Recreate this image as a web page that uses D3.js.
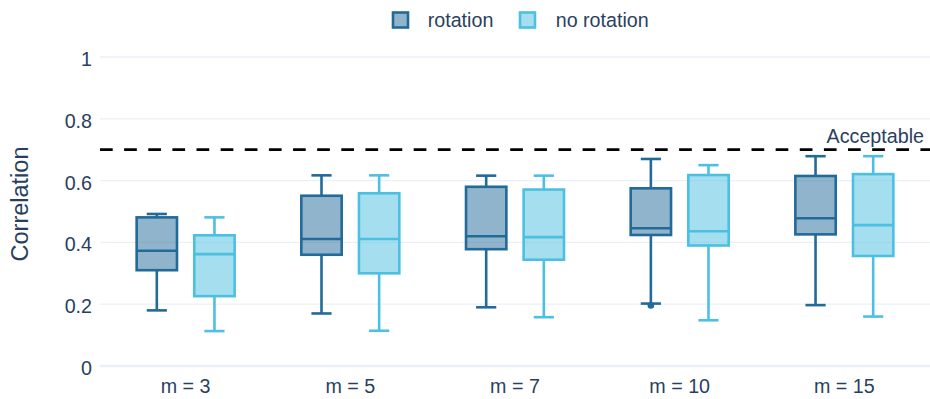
<!DOCTYPE html>
<html>
<head>
<meta charset="utf-8">
<script src="https://cdn.jsdelivr.net/npm/d3@7"></script>
<style>
  body { margin: 0; background: #fff; }
  svg { display: block; }
  text { font-family: "Liberation Sans", Arial, sans-serif; fill: #2a3f5f; }
</style>
</head>
<body>
<svg id="chart" width="930" height="399"></svg>
<script>
// Categories (number of components m) and the two compared series
const categories = ["m = 3", "m = 5", "m = 7", "m = 10", "m = 15"];
const seriesNames = ["rotation", "no rotation"];
const seriesColors = ["#226a98", "#4bc0e0"];

// Box statistics per category: "rotation"
const rotationLower  = [0.180, 0.170, 0.190, 0.202, 0.197];
const rotationQ1     = [0.310, 0.360, 0.378, 0.424, 0.426];
const rotationMedian = [0.373, 0.411, 0.420, 0.446, 0.478];
const rotationQ3     = [0.481, 0.551, 0.580, 0.575, 0.615];
const rotationUpper  = [0.492, 0.617, 0.616, 0.670, 0.679];
const rotationOutliers = [[], [], [], [0.196], []];

// Box statistics per category: "no rotation"
const noRotationLower  = [0.113, 0.114, 0.158, 0.148, 0.160];
const noRotationQ1     = [0.226, 0.300, 0.344, 0.390, 0.356];
const noRotationMedian = [0.362, 0.411, 0.417, 0.436, 0.456];
const noRotationQ3     = [0.423, 0.559, 0.571, 0.618, 0.621];
const noRotationUpper  = [0.481, 0.617, 0.616, 0.650, 0.679];
const noRotationOutliers = [[], [], [], [], []];

// Axis ticks and reference threshold
const yTickValues = [0, 0.2, 0.4, 0.6, 0.8, 1];
const yTickLabels = ["0", "0.2", "0.4", "0.6", "0.8", "1"];
const yAxisTitle = "Correlation";
const thresholdValue = 0.7;
const thresholdLabel = "Acceptable";

const stats = [
  { lower: rotationLower, q1: rotationQ1, median: rotationMedian, q3: rotationQ3, upper: rotationUpper, outliers: rotationOutliers },
  { lower: noRotationLower, q1: noRotationQ1, median: noRotationMedian, q3: noRotationQ3, upper: noRotationUpper, outliers: noRotationOutliers }
];

const boxes = [];
seriesNames.forEach((name, si) => {
  categories.forEach((cat, ci) => {
    const s = stats[si];
    boxes.push({
      series: name, color: seriesColors[si], cat,
      lower: s.lower[ci], q1: s.q1[ci], median: s.median[ci], q3: s.q3[ci], upper: s.upper[ci],
      outliers: s.outliers[ci]
    });
  });
});

const svg = d3.select("#chart");
const plotLeft = 100, plotRight = 930;
const fontSize = 19.7;
const lw = 2.6;

const x = d3.scaleBand().domain(categories).range([103.3, 926.7]).paddingInner(0).paddingOuter(0);
const bw0 = x.bandwidth();
const x1 = d3.scaleBand().domain(seriesNames)
  .range([bw0 * 0.15, bw0 * 0.85]).paddingInner(0.3).paddingOuter(0.15);
const y = d3.scaleLinear().domain([0, 1]).range([366, 57]);

// Horizontal grid
svg.append("g").selectAll("line")
  .data(yTickValues.filter(v => v !== 0))
  .join("line")
  .attr("x1", plotLeft).attr("x2", plotRight)
  .attr("y1", d => y(d)).attr("y2", d => y(d))
  .attr("stroke", "#ebf0f8").attr("stroke-width", 1.3);

// Zero line
svg.append("line")
  .attr("x1", plotLeft).attr("x2", plotRight)
  .attr("y1", y(0)).attr("y2", y(0))
  .attr("stroke", "#ebf0f8").attr("stroke-width", 2.6);

// Y axis labels
const yAxis = d3.axisLeft(y).tickValues(yTickValues)
  .tickFormat((d, i) => yTickLabels[i]).tickSize(0).tickPadding(8);
const gy = svg.append("g").attr("transform", `translate(${plotLeft},0)`).call(yAxis);
gy.select(".domain").remove();
gy.selectAll("text").attr("font-size", fontSize).attr("dy", "0.43em")
  .style("font-family", '"Liberation Sans", Arial, sans-serif').attr("fill", "#2a3f5f");

// X axis labels
const xAxis = d3.axisBottom(x).tickSize(0).tickPadding(13);
const gx = svg.append("g").attr("transform", `translate(0,${y(0)})`).call(xAxis);
gx.select(".domain").remove();
gx.selectAll("text").attr("font-size", fontSize)
  .style("font-family", '"Liberation Sans", Arial, sans-serif').attr("fill", "#2a3f5f");

// Y axis title
svg.append("text")
  .attr("transform", `translate(27.5,204) rotate(-90)`)
  .attr("text-anchor", "middle")
  .attr("font-size", 23.5)
  .text(yAxisTitle);

// Box plots
const bw = x1.bandwidth();
const g = svg.append("g");
const boxG = g.selectAll("g.box").data(boxes).join("g").attr("class", "box")
  .attr("transform", d => `translate(${x(d.cat) + x1(d.series) + bw / 2},0)`);

boxG.append("rect")
  .attr("x", -bw / 2).attr("width", bw)
  .attr("y", d => y(d.q3)).attr("height", d => y(d.q1) - y(d.q3))
  .attr("fill", d => d.color).attr("fill-opacity", 0.5)
  .attr("stroke", d => d.color).attr("stroke-width", lw);

boxG.append("line")
  .attr("x1", -bw / 2).attr("x2", bw / 2)
  .attr("y1", d => y(d.median)).attr("y2", d => y(d.median))
  .attr("stroke", d => d.color).attr("stroke-width", lw);

// Whiskers
boxG.append("line")
  .attr("x1", 0).attr("x2", 0)
  .attr("y1", d => y(d.q3)).attr("y2", d => y(d.upper))
  .attr("stroke", d => d.color).attr("stroke-width", lw);
boxG.append("line")
  .attr("x1", 0).attr("x2", 0)
  .attr("y1", d => y(d.q1)).attr("y2", d => y(d.lower))
  .attr("stroke", d => d.color).attr("stroke-width", lw);
boxG.append("line")
  .attr("x1", -bw / 4).attr("x2", bw / 4)
  .attr("y1", d => y(d.upper)).attr("y2", d => y(d.upper))
  .attr("stroke", d => d.color).attr("stroke-width", lw);
boxG.append("line")
  .attr("x1", -bw / 4).attr("x2", bw / 4)
  .attr("y1", d => y(d.lower)).attr("y2", d => y(d.lower))
  .attr("stroke", d => d.color).attr("stroke-width", lw);

// Outliers
boxG.selectAll("circle").data(d => d.outliers.map(v => ({ v, color: d.color })))
  .join("circle")
  .attr("cx", 0).attr("cy", d => y(d.v)).attr("r", 3.3)
  .attr("fill", d => d.color);

// Threshold line and label
svg.append("line")
  .attr("x1", plotLeft).attr("x2", plotRight)
  .attr("y1", y(thresholdValue)).attr("y2", y(thresholdValue))
  .attr("stroke", "#000").attr("stroke-width", 2.7)
  .attr("stroke-dasharray", "12.7,11.43");
svg.append("text")
  .attr("x", 924).attr("y", y(thresholdValue) - 6.5)
  .attr("text-anchor", "end").attr("font-size", fontSize)
  .text(thresholdLabel);

// Legend
const legendPos = [{ sx: 400.5, tx: 427.7 }, { sx: 527.5, tx: 555.7 }];
const legend = svg.append("g").selectAll("g").data(seriesNames).join("g");
legend.append("rect")
  .attr("x", (d, i) => legendPos[i].sx - 7.5).attr("y", 20 - 7.5)
  .attr("width", 15).attr("height", 15)
  .attr("fill", (d, i) => seriesColors[i]).attr("fill-opacity", 0.5)
  .attr("stroke", (d, i) => seriesColors[i]).attr("stroke-width", lw);
legend.append("text")
  .attr("x", (d, i) => legendPos[i].tx).attr("y", 20).attr("dy", "0.35em")
  .attr("font-size", fontSize)
  .text(d => d);
</script>
</body>
</html>
